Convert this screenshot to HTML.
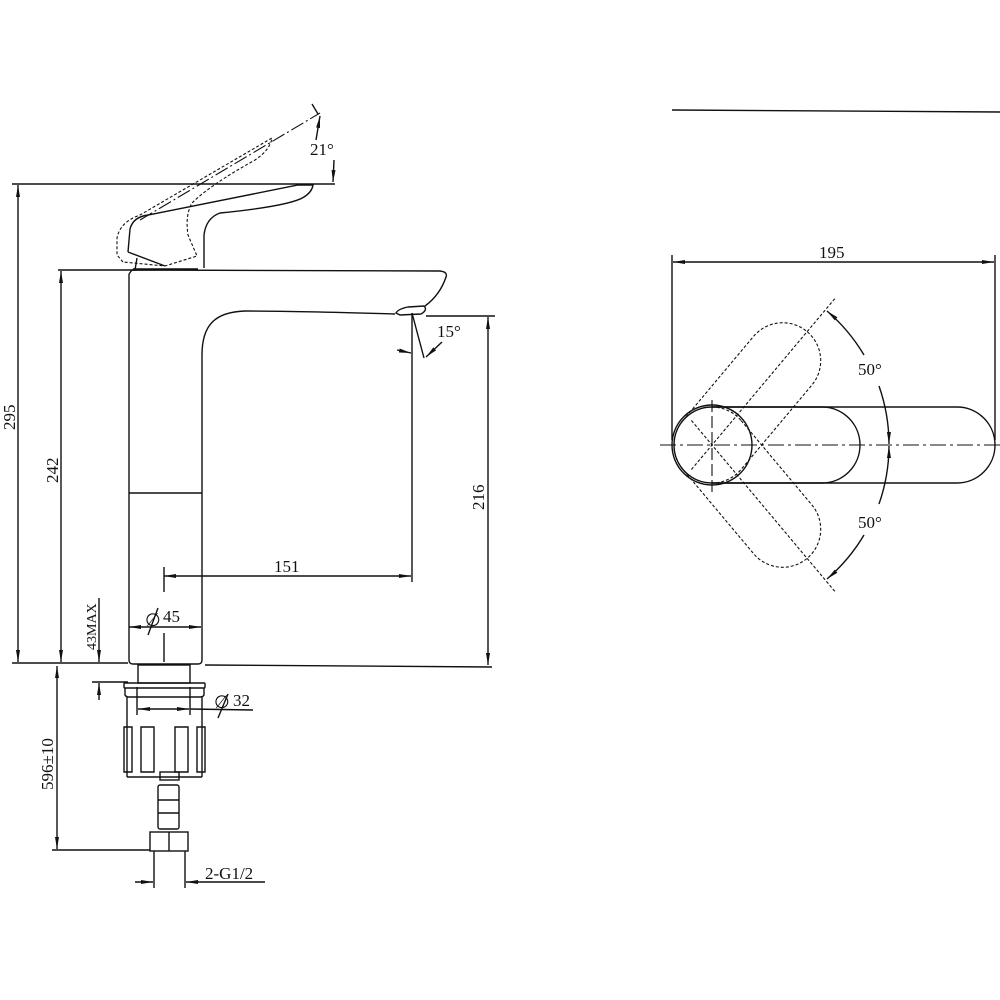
<!DOCTYPE html>
<html><head><meta charset="utf-8"><style>
html,body{margin:0;padding:0;background:#fff;width:1000px;height:1000px;overflow:hidden}
svg{display:block}
text{font-family:"Liberation Serif","DejaVu Serif",serif;font-size:17px;fill:#111}
</style></head><body>
<svg width="1000" height="1000" viewBox="0 0 1000 1000" xmlns="http://www.w3.org/2000/svg">
<defs>
<marker id="a" viewBox="0 0 12 4" refX="12" refY="2" markerWidth="12" markerHeight="4" markerUnits="userSpaceOnUse" orient="auto-start-reverse">
<path d="M0,0 L12,2 L0,4 Z" fill="#111"/></marker>
</defs>
<g fill="none" stroke="#111" stroke-width="1.4">
<line x1="12" y1="184" x2="335" y2="184"/>
<line x1="58" y1="270" x2="135" y2="270"/>
<line x1="18" y1="185" x2="18" y2="662" marker-start="url(#a)" marker-end="url(#a)"/>
<line x1="61" y1="271" x2="61" y2="662" marker-start="url(#a)" marker-end="url(#a)"/>
<line x1="12" y1="663" x2="128" y2="663"/>
<line x1="205" y1="665" x2="492" y2="667"/>
<path d="M129,274 L129,660 Q129,664 133,664 L198,664 Q202,664 202,660 L202,355 C202,325 215,312 245,311 C300,311 360,313 395,314"/>
<path d="M129,274 L132,270 L440,271 Q448,272 446,277 Q440,295 425,306"/>
<path d="M396,313 Q398,309 408,307 L424,306 Q428,310 421,314 L400,315 Z"/>
<line x1="129" y1="493" x2="202" y2="493"/>
<path d="M128,252 L130,229 Q133,217 148,215 L298,185 L313,185 Q312,192 304,197 Q290,206 220,213 Q206,218 204,235 L204,268"/>
<path d="M128,252 L165,266"/>
<path d="M137,258 L135,270"/>
<path d="M133,269 L198,269"/>
<path stroke-dasharray="3,2" stroke-width="1.1" d="M123,262 L117,255 L117,238 Q120,222 140,215 L272,138 Q270,150 255,160 Q210,185 192,203 Q185,215 188,235 L197,256 L165,266 L123,262"/>
<line x1="140" y1="220" x2="320" y2="113" stroke-dasharray="14,3,2,3" stroke-width="1.1"/>
<line x1="318" y1="114" x2="312" y2="104"/>
<line x1="316" y1="140" x2="320" y2="116" marker-end="url(#a)"/>
<line x1="334" y1="160" x2="333" y2="182" marker-end="url(#a)"/>
<line x1="426" y1="316" x2="495" y2="316"/>
<line x1="412" y1="313" x2="412" y2="582"/>
<line x1="412" y1="313" x2="424" y2="358"/>
<line x1="397" y1="350" x2="411" y2="353" marker-end="url(#a)"/>
<line x1="442" y1="342" x2="426" y2="357" marker-end="url(#a)"/>
<line x1="488" y1="317" x2="488" y2="665" marker-start="url(#a)" marker-end="url(#a)"/>
<line x1="164" y1="576" x2="411" y2="576" marker-start="url(#a)" marker-end="url(#a)"/>
<line x1="164" y1="567" x2="164" y2="592"/>
<line x1="164" y1="633" x2="164" y2="662"/>
<line x1="129" y1="627" x2="201" y2="627" marker-start="url(#a)" marker-end="url(#a)"/>
<line x1="148" y1="635" x2="158" y2="608"/>
<line x1="99" y1="598" x2="99" y2="662" marker-end="url(#a)"/>
<line x1="92" y1="682" x2="128" y2="682"/>
<line x1="99" y1="700" x2="99" y2="683" marker-end="url(#a)"/>
<rect x="138" y="665" width="52" height="18"/>
<rect x="124" y="683" width="81" height="5" rx="1"/>
<path d="M125,688 L125,695 Q126,697 129,697 L200,697 Q203,697 204,695 L204,688"/>
<line x1="127" y1="697" x2="127" y2="777"/>
<line x1="202" y1="697" x2="202" y2="777"/>
<line x1="127" y1="777" x2="202" y2="777"/>
<line x1="137" y1="687" x2="137" y2="715"/>
<line x1="190" y1="687" x2="190" y2="715"/>
<line x1="138" y1="709" x2="189" y2="709" marker-start="url(#a)" marker-end="url(#a)"/>
<line x1="190" y1="709" x2="253" y2="710"/>
<line x1="218" y1="718" x2="228" y2="694"/>
<path d="M124,727 L124,772 L132,772 L132,727 Z M141,727 L141,772 L154,772 L154,727 Z M175,727 L175,772 L188,772 L188,727 Z M197,727 L197,772 L205,772 L205,727 Z"/>
<rect x="160" y="772" width="19" height="8"/>
<rect x="158" y="785" width="21" height="44" rx="2"/>
<line x1="158" y1="800" x2="179" y2="800"/>
<line x1="158" y1="813" x2="179" y2="813"/>
<rect x="150" y="832" width="38" height="19"/>
<line x1="169" y1="832" x2="169" y2="851"/>
<line x1="57" y1="666" x2="57" y2="849" marker-start="url(#a)" marker-end="url(#a)"/>
<line x1="52" y1="850" x2="150" y2="850"/>
<line x1="154" y1="851" x2="154" y2="888"/>
<line x1="185" y1="851" x2="185" y2="888"/>
<line x1="135" y1="882" x2="153" y2="882" marker-end="url(#a)"/>
<line x1="265" y1="882" x2="186" y2="882" marker-end="url(#a)"/>
<line x1="672" y1="110" x2="1000" y2="112"/>
<line x1="672" y1="255" x2="672" y2="440"/>
<line x1="995" y1="255" x2="995" y2="440"/>
<line x1="673" y1="262" x2="994" y2="262" marker-start="url(#a)" marker-end="url(#a)"/>
<circle cx="712" cy="445" r="40"/>
<path d="M712,407 L957,407 A38,38 0 0 1 957,483 L712,483"/>
<path d="M712,407 L822,407 A38,38 0 0 1 822,483 L712,483 A38,38 0 0 1 712,407"/>
<path d="M660,445 L1000,445" stroke-dasharray="16,4,3,4" stroke-width="1.1"/>
<line x1="712" y1="400" x2="712" y2="495" stroke-dasharray="12,4" stroke-width="1.1"/>
<g stroke-dasharray="3,2" stroke-width="1.1">
<path transform="rotate(-50 712 445)" d="M712,407 L822,407 A38,38 0 0 1 822,483 L712,483 A38,38 0 0 1 712,407"/>
<path transform="rotate(50 712 445)" d="M712,407 L822,407 A38,38 0 0 1 822,483 L712,483 A38,38 0 0 1 712,407"/>
<line transform="rotate(-50 712 445)" x1="680" y1="445" x2="905" y2="445"/>
<line transform="rotate(50 712 445)" x1="680" y1="445" x2="905" y2="445"/>
</g>
<path d="M827,311 A177,177 0 0 1 864,355" marker-start="url(#a)"/>
<path d="M879,386 A177,177 0 0 1 889,444" marker-end="url(#a)"/>
<path d="M889,446 A177,177 0 0 1 879,504" marker-start="url(#a)"/>
<path d="M864,535 A177,177 0 0 1 827,579" marker-end="url(#a)"/>
</g>
<text x="310" y="155">21°</text>
<text x="437" y="337">15°</text>
<text x="274" y="572">151</text>
<text x="163" y="622">45</text>
<text x="233" y="706">32</text>
<text x="205" y="879">2-G1/2</text>
<text x="819" y="258">195</text>
<text x="858" y="375">50°</text>
<text x="858" y="528">50°</text>
<text transform="translate(15,430) rotate(-90)">295</text>
<text transform="translate(58,483) rotate(-90)">242</text>
<text transform="translate(484,510) rotate(-90)">216</text>
<text transform="translate(96,650) rotate(-90)" style="font-size:14px">43MAX</text>
<text transform="translate(53,790) rotate(-90)">596±10</text>
<text x="145" y="626" style="font-size:18px">∅</text>
<text x="214" y="708" style="font-size:18px">∅</text>
</svg>
</body></html>
